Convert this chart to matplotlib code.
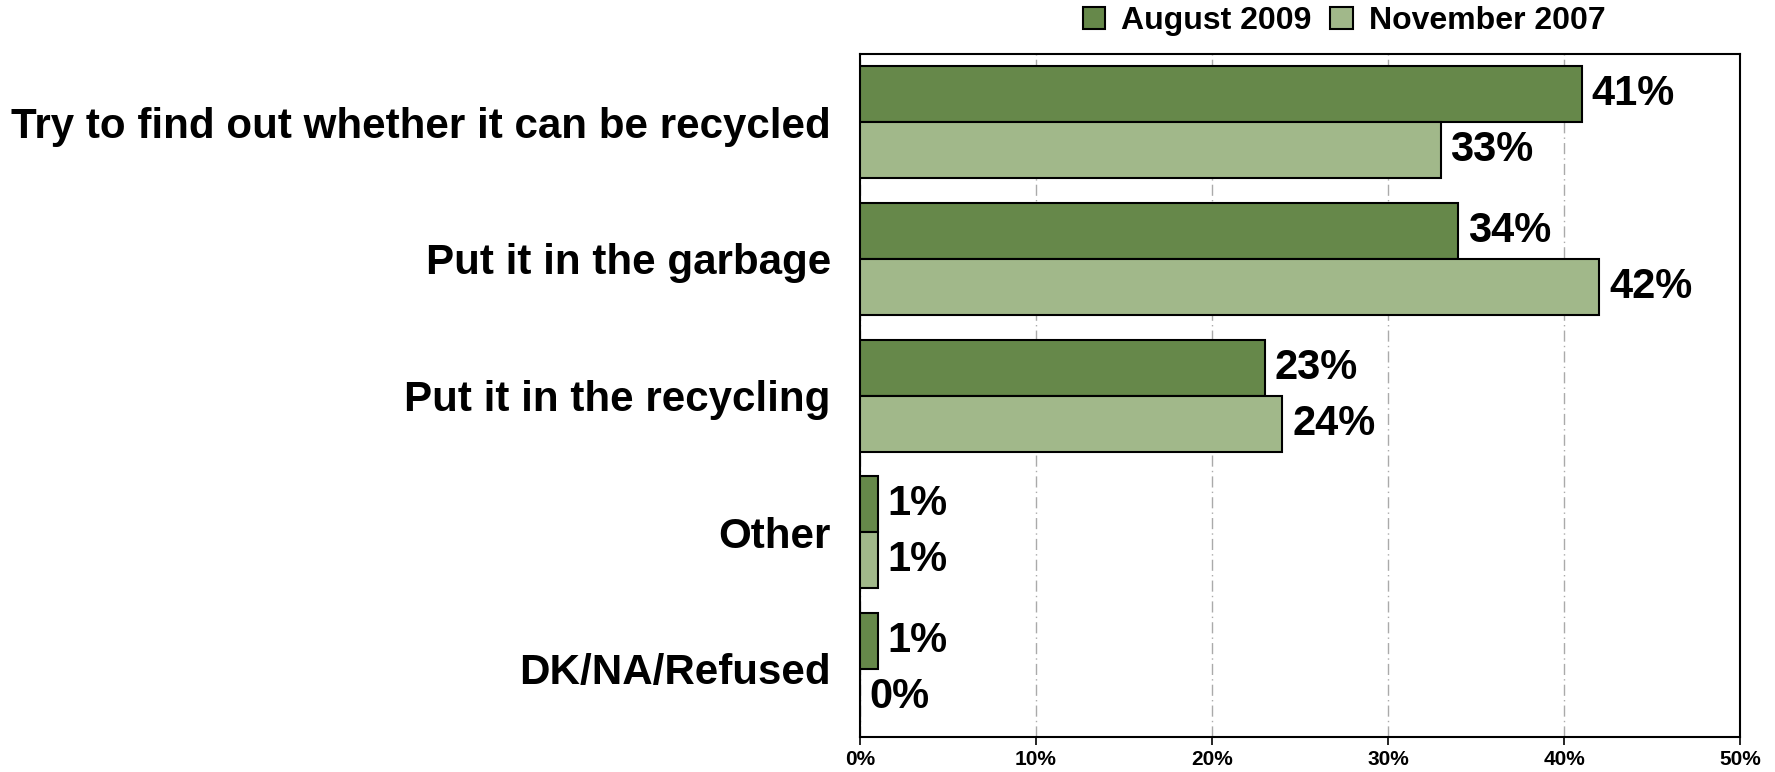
import matplotlib
matplotlib.use("Agg")
import matplotlib.pyplot as plt
import numpy as np

categories = ["Try to find out whether it can be recycled", "Put it in the garbage",
              "Put it in the recycling", "Other", "DK/NA/Refused"]
aug2009 = [41, 34, 23, 1, 1]
nov2007 = [33, 42, 24, 1, 0]
series_names = ["August 2009", "November 2007"]
xticks = [0, 10, 20, 30, 40, 50]
xtick_labels = ["0%", "10%", "20%", "30%", "40%", "50%"]

plt.rcParams['font.family'] = ['Liberation Sans', 'DejaVu Sans']
plt.rcParams['font.weight'] = 'bold'

fig = plt.figure(figsize=(17.75, 7.72), dpi=100)
ax = fig.add_axes([0.4845, 0.0453, 0.4958, 0.8847])

c1 = "#66884A"
c2 = "#A1B88A"
h = 0.41
y = np.arange(len(categories))
b1 = ax.barh(y - h/2, aug2009, height=h, color=c1, edgecolor="black", linewidth=1.5, label=series_names[0], zorder=3)
b2 = ax.barh(y + h/2, nov2007, height=h, color=c2, edgecolor="black", linewidth=1.5, label=series_names[1], zorder=3)

for bars, vals in ((b1, aug2009), (b2, nov2007)):
    for bar, v in zip(bars, vals):
        ax.annotate(f"{v}%", (v, bar.get_y() + bar.get_height()/2), xytext=(7, 0),
                    textcoords="offset points", va="center", ha="left",
                    fontsize=30, fontweight="bold")

ax.set_xlim(0, 50)
ax.set_ylim(4.5, -0.5)
ax.set_yticks(y)
ax.set_yticklabels(categories, fontsize=30.3, fontweight="bold")
ax.tick_params(axis="y", length=0, pad=21)
ax.set_xticks(xticks)
ax.set_xticklabels(xtick_labels, fontsize=15, fontweight="bold")
ax.tick_params(axis="x", direction="out", length=6, width=1.2, pad=3)
ax.xaxis.grid(True, linestyle=(0, (8, 3, 1, 3)), color="#AAAAAA", linewidth=1, zorder=0)
for s in ax.spines.values():
    s.set_linewidth(1.5)

leg = ax.legend(loc="lower center", bbox_to_anchor=(0.55, 1.0), ncol=2, frameon=False,
                prop={'weight': 'bold', 'size': 23}, handlelength=0.7, handleheight=0.7,
                handletextpad=0.5, columnspacing=0.6, borderaxespad=0.15)

fig.savefig("out.png", dpi=100)
